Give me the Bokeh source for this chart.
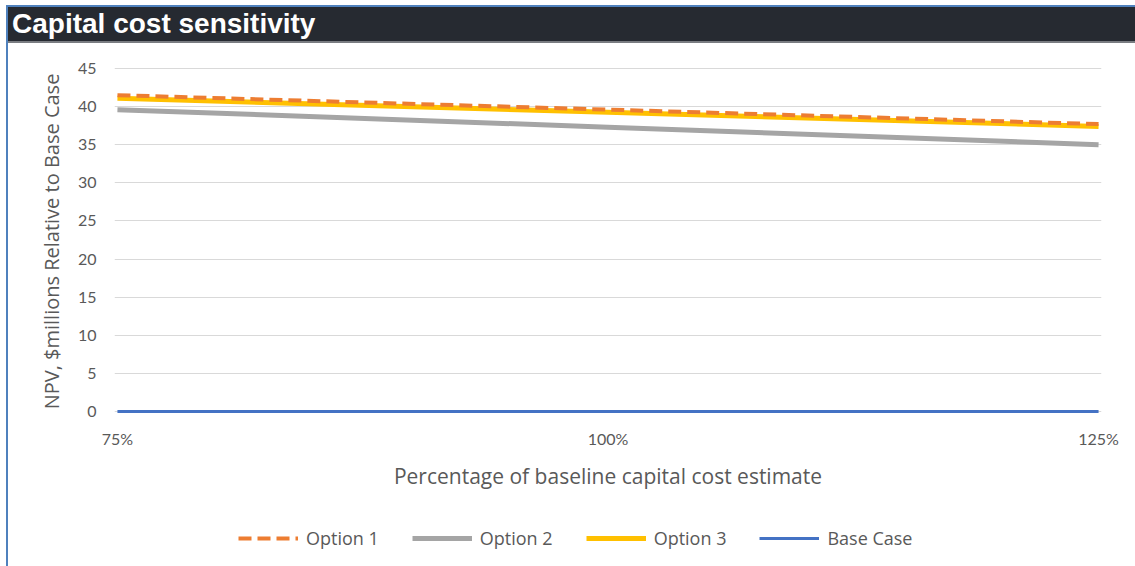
from bokeh.plotting import figure
from bokeh.models import Div, Legend, LegendItem, FixedTicker, Range1d
from bokeh.layouts import column
from bokeh.embed import file_html
from bokeh.resources import INLINE

# Capital cost sensitivity: NPV of each option relative to the base case
cost_pct = [75, 100, 125]
tick_labels = {75: "75%", 100: "100%", 125: "125%"}
option1 = [41.5, 39.6, 37.7]
option2 = [39.6, 37.3, 35.0]
option3 = [41.1, 39.25, 37.4]
base_case = [0, 0, 0]

series_names = ["Option 1", "Option 2", "Option 3", "Base Case"]
series_styles = {
    "Option 1": dict(line_color="#ed7d31", line_width=4, line_dash="13 6"),
    "Option 2": dict(line_color="#a5a5a5", line_width=5),
    "Option 3": dict(line_color="#ffc000", line_width=5),
    "Base Case": dict(line_color="#4472c4", line_width=3),
}

TICK_FONT = "Lato"
LABEL_FONT = "Open Sans"
TEXT_GREY = "#595959"
INNER_W = 1127

# Dark header bar
header = Div(
    text="Capital cost sensitivity",
    width=INNER_W, height=36, margin=0,
    styles={
        "background-color": "#262a31",
        "color": "white",
        "font-family": "Liberation Sans, Arial, sans-serif",
        "font-weight": "bold",
        "font-size": "28px",
        "line-height": "34px",
        "padding-left": "4px",
        "box-sizing": "border-box",
        "border-bottom": "2px solid #7a7d82",
        "white-space": "nowrap",
    },
)

# Main chart
p = figure(
    width=INNER_W, height=467, margin=0,
    output_backend="svg", toolbar_location=None,
    x_range=Range1d(74.85, 125.15), y_range=Range1d(-0.66, 45.26),
    min_border_left=106, min_border_right=34, min_border_top=23,
    min_border_bottom=94,
    outline_line_color=None,
)

series = {"Option 1": option1, "Option 2": option2,
          "Option 3": option3, "Base Case": base_case}
for name in ["Option 2", "Option 3", "Option 1", "Base Case"]:
    p.line(cost_pct, series[name], **series_styles[name])

p.xaxis.ticker = FixedTicker(ticks=cost_pct)
p.xaxis.major_label_overrides = tick_labels
p.xaxis.axis_label = "Percentage of baseline capital cost estimate"
p.yaxis.ticker = FixedTicker(ticks=list(range(0, 50, 5)))
p.yaxis.axis_label = "NPV, $millions Relative to Base Case"
for ax in (p.xaxis, p.yaxis):
    ax.axis_line_color = None
    ax.major_tick_line_color = None
    ax.minor_tick_line_color = None
    ax.major_label_text_font = TICK_FONT
    ax.major_label_text_font_size = "16px"
    ax.major_label_text_color = TEXT_GREY
    ax.axis_label_text_font = LABEL_FONT
    ax.axis_label_text_font_style = "normal"
    ax.axis_label_text_color = TEXT_GREY
p.xaxis.axis_label_text_font_size = "21px"
p.yaxis.axis_label_text_font_size = "20px"
p.xaxis.major_label_standoff = 6
p.xaxis.axis_label_standoff = 11
p.yaxis.major_label_standoff = 12
p.yaxis.axis_label_standoff = 10

p.xgrid.grid_line_color = None
p.ygrid.grid_line_color = "#d9d9d9"
p.ygrid.grid_line_width = 1.2

# Legend strip under the chart (swatch renderers hold a single NaN point)
lg = figure(
    width=INNER_W, height=56, margin=0,
    output_backend="svg", toolbar_location=None,
    x_axis_type=None, y_axis_type=None,
    x_range=Range1d(0, 1), y_range=Range1d(0, 1),
    min_border=0, outline_line_color=None,
)
lg.xgrid.grid_line_color = None
lg.ygrid.grid_line_color = None
items = []
for name in series_names:
    r = lg.line([float("nan")], [float("nan")], **series_styles[name])
    items.append(LegendItem(label=name, renderers=[r]))
legend = Legend(
    items=items,
    orientation="horizontal", location=(124, 16),
    label_text_font=LABEL_FONT, label_text_font_size="18px",
    label_text_color=TEXT_GREY,
    glyph_width=60, label_standoff=8, spacing=33,
    border_line_color=None, background_fill_alpha=0,
    margin=0, padding=0,
)
lg.add_layout(legend)

page = column(
    header, p, lg,
    margin=(5, 0, 0, 6), spacing=0,
    styles={
        "border-left": "2px solid #4f81bd",
        "border-top": "2px solid #4f81bd",
    },
)

open("out.html", "w").write(file_html(page, INLINE))
